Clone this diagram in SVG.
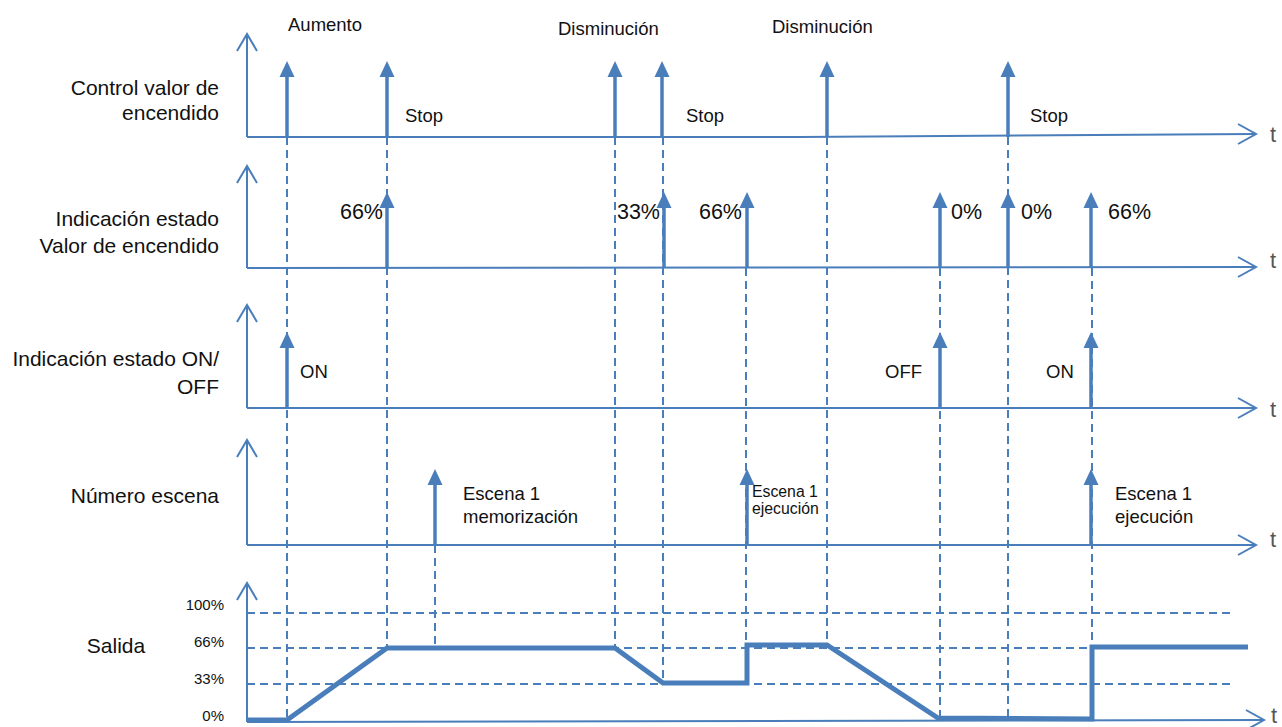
<svg xmlns="http://www.w3.org/2000/svg" xmlns:xlink="http://www.w3.org/1999/xlink" width="1282" height="727" viewBox="0 0 1282 727">
<style>
.ax{stroke:#4a7ebb;stroke-width:2;fill:none}
.dash{stroke:#4a7ebb;stroke-width:2;fill:none;stroke-dasharray:8 5}
.out{stroke:#4a7ebb;stroke-width:5;fill:none;stroke-linejoin:miter}
.lbl{font-family:"Liberation Sans",Arial,sans-serif;font-size:21px;fill:#111}
.pv{font-family:"Liberation Sans",Arial,sans-serif;font-size:21.5px;fill:#111}
.sm{font-family:"Liberation Sans",Arial,sans-serif;font-size:18.5px;fill:#111}
.xs{font-family:"Liberation Sans",Arial,sans-serif;font-size:15.8px;fill:#111}
.pc{font-family:"Liberation Sans",Arial,sans-serif;font-size:15px;fill:#111}
.t{font-family:"Liberation Sans",Arial,sans-serif;font-size:22px;fill:#555}
</style>
<defs>
<g id="up">
<line x1="0" y1="0" x2="0" y2="-62" stroke="#4a7ebb" stroke-width="3.5"/>
<polygon points="-7.5,-60 0,-76 7.5,-60" fill="#4a7ebb"/>
</g>
<path id="ych" d="M-10,17 L0,0 L10,17" class="ax"/>
<path id="xch" d="M-18,-10 L0,0 L-18,10" class="ax"/>
</defs>

<g id="connectors">
<line class="dash" x1="287" y1="137" x2="287" y2="721"/>
<line class="dash" x1="387" y1="137" x2="387" y2="648"/>
<line class="dash" x1="435" y1="545" x2="435" y2="648"/>
<line class="dash" x1="615" y1="137" x2="615" y2="648"/>
<line class="dash" x1="663" y1="137" x2="663" y2="683"/>
<line class="dash" x1="746" y1="268" x2="746" y2="645"/>
<line class="dash" x1="827" y1="137" x2="827" y2="645"/>
<line class="dash" x1="940" y1="268" x2="940" y2="719"/>
<line class="dash" x1="1008" y1="137" x2="1008" y2="719"/>
<line class="dash" x1="1092" y1="268" x2="1092" y2="647"/>
<line class="dash" x1="247" y1="613" x2="1233" y2="613"/>
<line class="dash" x1="247" y1="648" x2="1233" y2="648"/>
<line class="dash" x1="247" y1="684" x2="1233" y2="684"/>
</g>

<g id="row1">
<line class="ax" x1="247" y1="34" x2="247" y2="137"/>
<use href="#ych" x="247" y="34"/>
<polyline class="ax" points="247,137 800,137 1255,134"/>
<use href="#xch" x="1256" y="134"/>
<text class="t" x="1270" y="142">t</text>
<text class="lbl" x="219" y="95" text-anchor="end">Control valor de</text>
<text class="lbl" x="219" y="120" text-anchor="end">encendido</text>
<use href="#up" x="287" y="137"/>
<use href="#up" x="387" y="137"/>
<use href="#up" x="615" y="137"/>
<use href="#up" x="662" y="137"/>
<use href="#up" x="827" y="137"/>
<use href="#up" x="1008" y="137"/>
<text class="sm" x="288" y="31">Aumento</text>
<text class="sm" x="558" y="35">Disminución</text>
<text class="sm" x="772" y="33">Disminución</text>
<text class="sm" x="405" y="122">Stop</text>
<text class="sm" x="686" y="122">Stop</text>
<text class="sm" x="1030" y="122">Stop</text>
</g>

<g id="row2">
<line class="ax" x1="247" y1="166" x2="247" y2="268"/>
<use href="#ych" x="247" y="166"/>
<line class="ax" x1="247" y1="268" x2="1255" y2="267"/>
<use href="#xch" x="1256" y="267"/>
<text class="t" x="1270" y="268">t</text>
<text class="lbl" x="219" y="226" text-anchor="end">Indicación estado</text>
<text class="lbl" x="219" y="253" text-anchor="end">Valor de encendido</text>
<use href="#up" x="387" y="268"/>
<use href="#up" x="664" y="268"/>
<use href="#up" x="747" y="268"/>
<use href="#up" x="940" y="268"/>
<use href="#up" x="1008" y="268"/>
<use href="#up" x="1091" y="268"/>
<text class="pv" x="383" y="219" text-anchor="end">66%</text>
<text class="pv" x="660" y="219" text-anchor="end">33%</text>
<text class="pv" x="742" y="219" text-anchor="end">66%</text>
<text class="pv" x="951" y="219">0%</text>
<text class="pv" x="1021" y="219">0%</text>
<text class="pv" x="1108" y="219">66%</text>
</g>

<g id="row3">
<line class="ax" x1="247" y1="305" x2="247" y2="408"/>
<use href="#ych" x="247" y="305"/>
<line class="ax" x1="247" y1="408" x2="1255" y2="408"/>
<use href="#xch" x="1256" y="408"/>
<text class="t" x="1270" y="417">t</text>
<text class="lbl" x="219" y="366" text-anchor="end">Indicación estado ON/</text>
<text class="lbl" x="219" y="394" text-anchor="end">OFF</text>
<use href="#up" x="287" y="408"/>
<use href="#up" x="940" y="408"/>
<use href="#up" x="1091" y="408"/>
<text class="sm" x="300" y="378">ON</text>
<text class="sm" x="885" y="378">OFF</text>
<text class="sm" x="1046" y="378">ON</text>
</g>

<g id="row4">
<line class="ax" x1="247" y1="440" x2="247" y2="545"/>
<use href="#ych" x="247" y="440"/>
<line class="ax" x1="247" y1="545" x2="1255" y2="545"/>
<use href="#xch" x="1256" y="545"/>
<text class="t" x="1270" y="547">t</text>
<text class="lbl" x="219" y="503" text-anchor="end">Número escena</text>
<use href="#up" x="435" y="545"/>
<use href="#up" x="747" y="545"/>
<use href="#up" x="1091" y="545"/>
<text class="sm" x="463" y="500">Escena 1</text>
<text class="sm" x="463" y="523">memorización</text>
<text class="xs" x="752" y="497">Escena 1</text>
<text class="xs" x="752" y="514">ejecución</text>
<text class="sm" x="1115" y="500">Escena 1</text>
<text class="sm" x="1115" y="523">ejecución</text>
</g>

<g id="salida">
<line class="ax" x1="247" y1="583" x2="247" y2="722"/>
<use href="#ych" x="247" y="583"/>
<line class="ax" x1="247" y1="722" x2="1263" y2="720"/>
<use href="#xch" x="1264" y="720"/>
<text class="t" x="1271" y="723">t</text>
<text class="lbl" x="116" y="653" text-anchor="middle">Salida</text>
<text class="pc" x="224" y="610" text-anchor="end">100%</text>
<text class="pc" x="224" y="647" text-anchor="end">66%</text>
<text class="pc" x="224" y="684" text-anchor="end">33%</text>
<text class="pc" x="224" y="721" text-anchor="end">0%</text>
<polyline class="out" points="247,720 287,720 387,648 615,648 663,683 747,683 747,645 827,645 938,718 1092,719 1092,647 1248,647"/>
</g>
</svg>
